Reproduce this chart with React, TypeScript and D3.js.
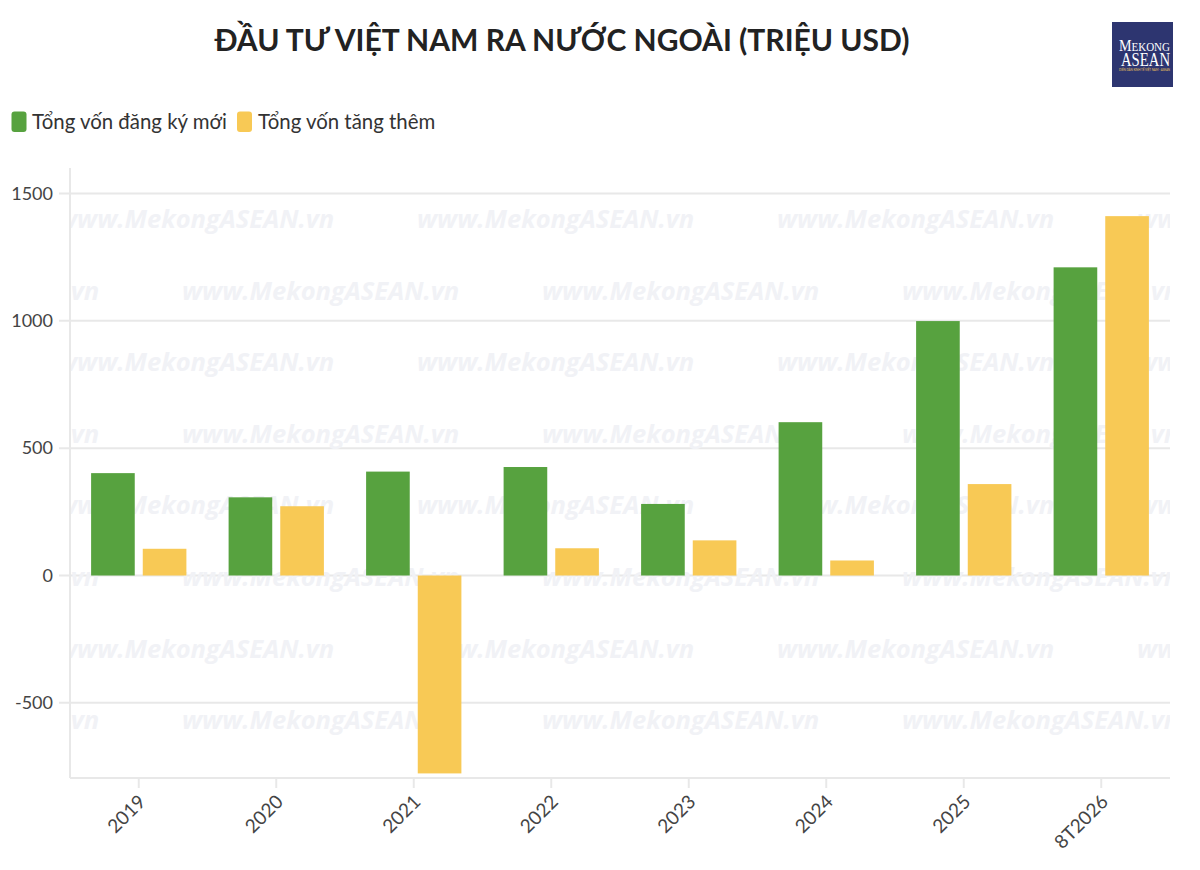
import React from "react";
import * as d3 from "d3";

const categories = ["2019", "2020", "2021", "2022", "2023", "2024", "2025", "8T2026"];
const newCapital = [402, 307, 408, 426, 281, 602, 999, 1210];
const addedCapital = [105, 272, -777, 107, 138, 59, 359, 1411];
const seriesNames = ["Tổng vốn đăng ký mới", "Tổng vốn tăng thêm"];
const seriesColors = ["#57a23f", "#f8c955"];
const yTicks = [-500, 0, 500, 1000, 1500];

const W = 1200;
const H = 870;
const plot = { left: 70, right: 1170, top: 168, bottom: 778 };
const FONT = "Lato, 'Noto Sans', sans-serif";
const WM_WIDTH = 280;

export default function App() {
  const x0 = d3
    .scaleBand<string>()
    .domain(categories)
    .range([plot.left, plot.right])
    .paddingInner(0.307)
    .paddingOuter(0.1535);
  const x1 = d3
    .scaleBand<string>()
    .domain(seriesNames)
    .range([0, x0.bandwidth()])
    .paddingInner(0.155);
  const y = d3.scaleLinear().domain([-795, 1600]).range([plot.bottom, plot.top]);

  const data = categories.map((c, i) => ({ c, vals: [newCapital[i], addedCapital[i]] }));

  // watermark layout
  const wmRows: { y: number; xs: number[] }[] = [];
  for (let r = 0; r < 8; r++) {
    const yy = 219 + r * 71.6;
    const start = r % 2 === 0 ? 57 : 182 - 360;
    const xs: number[] = [];
    for (let k = 0; k < 5; k++) {
      const xx = start + k * 360;
      if (xx < plot.right - 10 && xx + WM_WIDTH > plot.left + 10) xs.push(xx);
    }
    wmRows.push({ y: yy, xs });
  }

  return (
    <div style={{ position: "absolute", left: 0, top: 0, background: "#fff" }}>
      <svg width={W} height={H} viewBox={`0 0 ${W} ${H}`} style={{ display: "block" }}>
        <rect x={0} y={0} width={W} height={H} fill="#fff" />
        <defs>
          <clipPath id="plotClip">
            <rect x={plot.left} y={plot.top} width={plot.right - plot.left} height={plot.bottom - plot.top} />
          </clipPath>
        </defs>

        {/* Title */}
        <text
          x={562}
          y={51}
          textAnchor="middle"
          fontFamily={FONT}
          fontWeight={700}
          fontSize={30}
          fill="#222"
        >
          ĐẦU TƯ VIỆT NAM RA NƯỚC NGOÀI (TRIỆU USD)
        </text>

        {/* Logo */}
        <g>
          <rect x={1112} y={22} width={61} height={65} fill="#2d3570" />
          <text
            x={1119}
            y={51}
            textLength={51}
            lengthAdjust="spacingAndGlyphs"
            fontFamily="'Liberation Serif', serif"
            fill="#fff"
          >
            <tspan fontSize={16}>M</tspan>
            <tspan fontSize={12.5}>EKONG</tspan>
          </text>
          <text
            x={1121}
            y={66}
            textLength={49}
            lengthAdjust="spacingAndGlyphs"
            fontFamily="'Liberation Serif', serif"
            fontSize={19}
            fill="#fff"
          >
            ASEAN
          </text>
          <text
            x={1119}
            y={71}
            textLength={51}
            lengthAdjust="spacingAndGlyphs"
            fontFamily={FONT}
            fontSize={3}
            fill="#f1c85a"
          >
            DIỄN ĐÀN KINH TẾ VIỆT NAM - ASEAN
          </text>
        </g>

        {/* Legend */}
        <g fontFamily={FONT} fontSize={20.4} fill="#333">
          <rect x={11.5} y={111.5} width={15} height={20.5} rx={3} fill={seriesColors[0]} />
          <text x={32} y={129}>{seriesNames[0]}</text>
          <rect x={237} y={111.5} width={15} height={20.5} rx={3} fill={seriesColors[1]} />
          <text x={258} y={129}>{seriesNames[1]}</text>
        </g>

        {/* Gridlines */}
        <g>
          {yTicks.map((t) => (
            <g key={t}>
              <line x1={59} x2={plot.right} y1={y(t)} y2={y(t)} stroke="#e8e8e8" strokeWidth={2} />
              <text
                x={53}
                y={y(t)}
                dy="0.35em"
                textAnchor="end"
                fontFamily={FONT}
                fontSize={18}
                fill="#444"
              >
                {t}
              </text>
            </g>
          ))}
        </g>

        {/* Watermark */}
        <g clipPath="url(#plotClip)">
          {wmRows.map((row, ri) =>
            row.xs.map((xx, k) => (
              <text
                key={`${ri}-${k}`}
                x={xx}
                y={row.y}
                dy="0.35em"
                fontFamily="'Open Sans', sans-serif"
                fontWeight={700}
                fontStyle="italic"
                fontSize={25.5}
                fill="#f1f2f6"
              >
                www.MekongASEAN.vn
              </text>
            ))
          )}
        </g>

        {/* Axes lines */}
        <line x1={plot.left} x2={plot.left} y1={plot.top} y2={plot.bottom} stroke="#e8e8e8" strokeWidth={2} />
        <line x1={plot.left} x2={plot.right} y1={plot.bottom} y2={plot.bottom} stroke="#e8e8e8" strokeWidth={2} />

        {/* Bars */}
        <g>
          {data.map((d) => (
            <g key={d.c} transform={`translate(${x0(d.c)},0)`}>
              {d.vals.map((v, si) => (
                <rect
                  key={si}
                  x={x1(seriesNames[si])}
                  y={Math.min(y(v), y(0))}
                  width={x1.bandwidth()}
                  height={Math.abs(y(v) - y(0))}
                  fill={seriesColors[si]}
                />
              ))}
            </g>
          ))}
        </g>

        {/* X ticks & labels */}
        <g>
          {categories.map((c) => {
            const cx = (x0(c) as number) + x0.bandwidth() / 2;
            return (
              <g key={c}>
                <line x1={cx} x2={cx} y1={plot.bottom} y2={plot.bottom + 10} stroke="#e8e8e8" strokeWidth={2} />
                <text
                  transform={`translate(${cx + 8},${plot.bottom + 25}) rotate(-45)`}
                  textAnchor="end"
                  fontFamily={FONT}
                  fontSize={19}
                  fill="#444"
                >
                  {c}
                </text>
              </g>
            );
          })}
        </g>
      </svg>
    </div>
  );
}
